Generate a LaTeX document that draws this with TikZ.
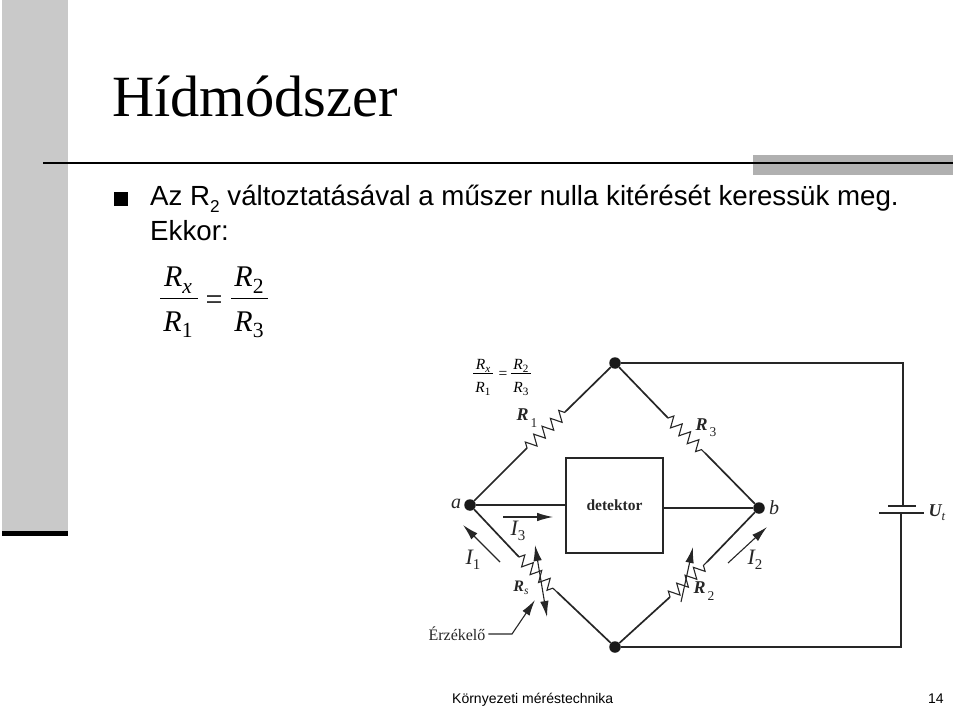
\documentclass[tikz,border=0pt]{standalone}
\usepackage{fontspec}
\setmainfont{Liberation Serif}
\newfontfamily\bodyfont{Liberation Sans}
\usetikzlibrary{decorations.pathmorphing,arrows.meta}
\tikzset{
  >=latex,
  wire/.style={line width=1.7pt,black!85},
  dot/.style={circle,fill=black!90,inner sep=0pt,minimum size=11.5pt},
  resistor/.style={line width=1.1pt,black!85,decorate,decoration={zigzag,segment length=11.5pt,amplitude=5.5pt}},
  current/.style={->,line width=1.1pt,black!85,>={Latex[length=16pt,width=8.5pt]}},
  body/.style={anchor=base west,inner sep=0pt,font=\bodyfont\fontsize{27.7}{30}\selectfont},
  foot/.style={anchor=base west,inner sep=0pt,font=\bodyfont\fontsize{14}{18}\selectfont},
  bigr/.style={anchor=base,inner sep=0pt,font=\fontsize{30}{32}\selectfont},
  smallr/.style={anchor=base,inner sep=0pt,font=\fontsize{15.5}{17}\selectfont},
  lab/.style={inner sep=0pt,black!85,font=\fontsize{18}{20}\selectfont\itshape\bfseries},
  thinlab/.style={inner sep=0pt,black!85,font=\fontsize{22}{24}\selectfont\itshape},
}
\newcommand{\sbs}[1]{\raisebox{-.22em}{\scalebox{.72}{#1}}}
\newcommand{\sbb}[1]{\raisebox{-.24em}{\scalebox{.62}{#1}}}
\newcommand{\sbl}[1]{\hspace{.1em}\raisebox{-.35em}{\scalebox{.75}{\upshape\mdseries #1}}}
\newcommand{\sbi}[1]{\raisebox{-.25em}{\scalebox{.68}{\upshape\mdseries #1}}}
\begin{document}
\begin{tikzpicture}[x=1pt,y=-1pt]
  \useasboundingbox (0,0) rectangle (960,708);
  % slide frame
  \fill[black!21] (2,0) rectangle (68,531);
  \fill[black] (2,531) rectangle (68,536);
  \fill[black!31] (753,155) rectangle (953,175);
  \draw[line width=2pt] (43,163)--(953,163);
  \node[anchor=base west,inner sep=0pt,font=\fontsize{58.4}{60}\selectfont] (title) at (112,117) {Hídmódszer};
  % text
  \node[fill=black,inner sep=0pt,minimum size=14pt,anchor=north west] (bullet) at (114,192) {};
  \node[body] (line1) at (150,206) {Az R\sbb{2} változtatásával a műszer nulla kitérését keressük meg.};
  \node[body] (line2) at (150,241) {Ekkor:};
  % big ratio
  \node[bigr] (bigx) at (178,287) {\textit{R}\sbs{\textit{x}}};
  \node[bigr] (bigone) at (178,331) {\textit{R}\sbs{1}};
  \node[bigr] (bigtwo) at (249,287) {\textit{R}\sbs{2}};
  \node[bigr] (bigthree) at (249,331) {\textit{R}\sbs{3}};
  \node[bigr] (bigeq) at (214,309) {=};
  \draw[line width=.8pt] (160,298)--(198,298);
  \draw[line width=.8pt] (231,298)--(268,298);
  % small ratio
  \node[smallr] (smx) at (483,369) {\textit{R}\sbs{\textit{x}}};
  \node[smallr] (smone) at (483,392) {\textit{R}\sbs{1}};
  \node[smallr] (smtwo) at (521,369) {\textit{R}\sbs{2}};
  \node[smallr] (smthree) at (521,392) {\textit{R}\sbs{3}};
  \node[smallr] (smeq) at (503,378) {=};
  \draw[line width=.6pt] (473,373)--(493,373);
  \draw[line width=.6pt] (511,373)--(531,373);
  % bridge
  \node[dot] (top) at (615,363) {};
  \node[dot] (a) at (470,505) {};
  \node[dot] (b) at (759,508) {};
  \node[dot] (bot) at (615,647) {};
  \node[draw,line width=1.3pt,black!85,minimum width=97pt,minimum height=95pt,inner sep=0pt,font=\fontsize{15.5}{17}\selectfont\bfseries] (det) at (614.5,505.5) {detektor};
  \coordinate (r1a) at (527,448);
  \coordinate (r1b) at (565,412);
  \coordinate (r3a) at (668,418);
  \coordinate (r3b) at (705,453);
  \coordinate (rsa) at (519,557);
  \coordinate (rsb) at (557,592);
  \coordinate (r2a) at (670,597);
  \coordinate (r2b) at (707,562);
  \coordinate (topr) at (903,363);
  \coordinate (botr) at (901,647);
  \coordinate (pla) at (903,506);
  \coordinate (plb) at (901,513);
  \begin{scope}[wire]
    \draw (a)--(r1a);
    \draw (r1b)--(top);
    \draw (top)--(r3a);
    \draw (r3b)--(b);
    \draw (a)--(rsa);
    \draw (rsb)--(bot);
    \draw (bot)--(r2a);
    \draw (r2b)--(b);
    \draw (a)--(det.west |- a);
    \draw (det.east |- b)--(b);
    \draw (top)--(topr)--(pla);
    \draw (plb)--(botr)--(bot);
    \draw (888,506)--(916,506);
    \draw (879,513)--(924,513);
  \end{scope}
  \draw[resistor] (r1a)--(r1b);
  \draw[resistor] (r3a)--(r3b);
  \draw[resistor] (rsa)--(rsb);
  \draw[resistor] (r2a)--(r2b);
  % arrows
  \coordinate (rsu) at (535,545);
  \coordinate (rsd) at (547,617);
  \coordinate (r2d) at (681,602);
  \coordinate (r2u) at (693,547);
  \draw[current,<->] (rsu)--(rsd);
  \draw[current] (r2d)--(r2u);
  \draw[current] (500,562)--(463,525);
  \draw[current] (503,517)--(553,517);
  \draw[current] (728,563)--(767,527);
  \node[inner sep=0pt,outer sep=3pt,black!85,font=\fontsize{16}{18}\selectfont] (erz) at (457,634) {Érzékelő};
  \coordinate (erzk) at (512,634);
  \draw[current] (erz.east)--(erzk)--(535,600);
  % labels
  \node[thinlab,font=\fontsize{20}{22}\selectfont\itshape] (la) at (456,504) {a};
  \node[thinlab,font=\fontsize{20}{22}\selectfont\itshape] (lb) at (774,508) {b};
  \node[lab] (lr1) at (527,418) {R\sbl{1}};
  \node[lab] (lr3) at (706,428) {R\sbl{3}};
  \node[lab,font=\fontsize{16}{17}\selectfont\itshape\bfseries] (lrs) at (521,588) {R\sbs{\mdseries s}};
  \node[lab] (lr2) at (704,591) {R\sbl{2}};
  \node[thinlab] (li1) at (473,560) {I\sbi{1}};
  \node[thinlab] (li3) at (518,531) {I\sbi{3}};
  \node[thinlab] (li2) at (755,560) {I\sbi{2}};
  \node[lab] (lu) at (937,513) {U\sbs{\mdseries t}};
  % footer
  \node[foot] (fleft) at (452,703) {Környezeti méréstechnika};
  \node[foot] (fright) at (928,703) {14};
\end{tikzpicture}
\end{document}
